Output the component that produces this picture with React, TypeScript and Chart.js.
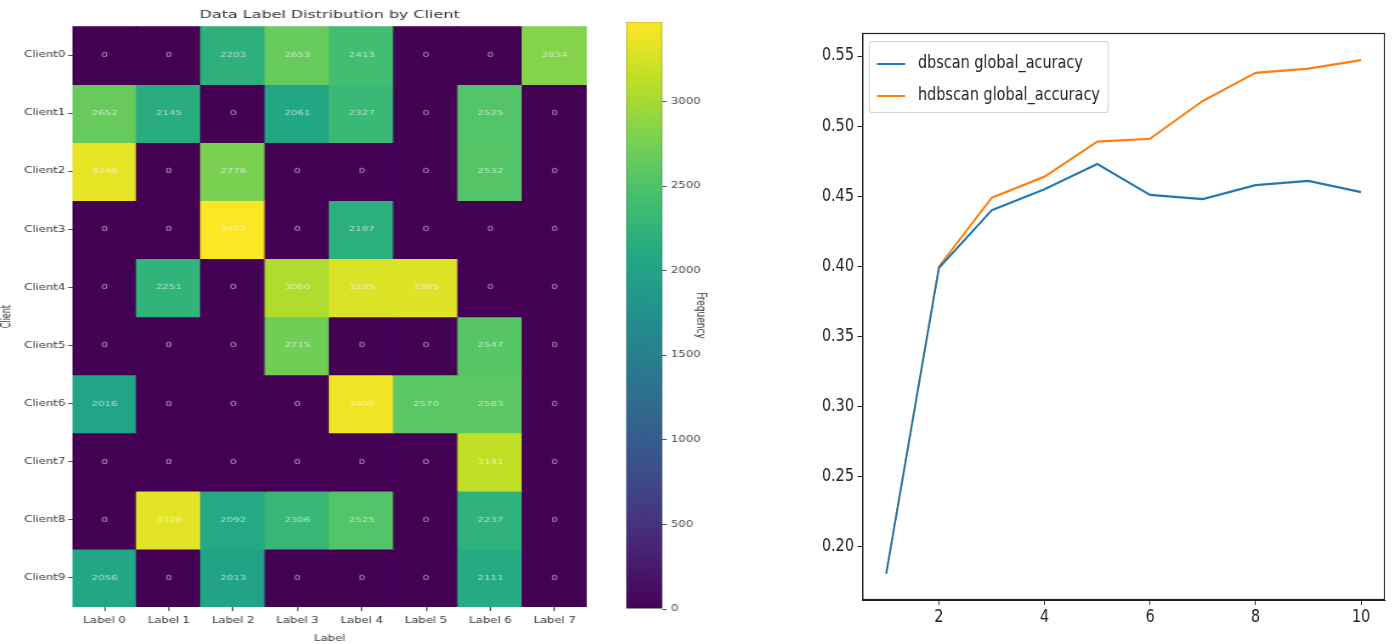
import React, { useEffect, useRef } from "react";
import { Chart, registerables } from "chart.js";

Chart.register(...registerables);

// ---------- Data ----------
const labelNames = ["Label 0", "Label 1", "Label 2", "Label 3", "Label 4", "Label 5", "Label 6", "Label 7"];
const clientNames = ["Client0", "Client1", "Client2", "Client3", "Client4", "Client5", "Client6", "Client7", "Client8", "Client9"];
const client0 = [0, 0, 2203, 2653, 2413, 0, 0, 2834];
const client1 = [2652, 2145, 0, 2061, 2327, 0, 2525, 0];
const client2 = [3346, 0, 2776, 0, 0, 0, 2532, 0];
const client3 = [0, 0, 3472, 0, 2187, 0, 0, 0];
const client4 = [0, 2251, 0, 3060, 3285, 3305, 0, 0];
const client5 = [0, 0, 0, 2715, 0, 0, 2547, 0];
const client6 = [2016, 0, 0, 0, 3400, 2570, 2583, 0];
const client7 = [0, 0, 0, 0, 0, 0, 3141, 0];
const client8 = [0, 3326, 2092, 2306, 2525, 0, 2237, 0];
const client9 = [2056, 0, 2013, 0, 0, 0, 2111, 0];
const heatRows = [client0, client1, client2, client3, client4, client5, client6, client7, client8, client9];
const colorbarTicks = [0, 500, 1000, 1500, 2000, 2500, 3000];

const rounds = [1, 2, 3, 4, 5, 6, 7, 8, 9, 10];
const dbscanAcc = [0.181, 0.399, 0.44, 0.455, 0.473, 0.451, 0.448, 0.458, 0.461, 0.453];
const hdbscanAcc = [0.181, 0.4, 0.449, 0.464, 0.489, 0.491, 0.518, 0.538, 0.541, 0.547];
const accTicksX = [2, 4, 6, 8, 10];
const accTicksY = [0.2, 0.25, 0.3, 0.35, 0.4, 0.45, 0.5, 0.55];

// ---------- Helpers ----------
const viridisStops = [
  "#440154", "#482475", "#414487", "#355f8d", "#2a788e", "#21918c",
  "#22a884", "#44bf70", "#7ad151", "#bddf26", "#fde725",
];
function hexToRgb(h: string) {
  return [parseInt(h.slice(1, 3), 16), parseInt(h.slice(3, 5), 16), parseInt(h.slice(5, 7), 16)];
}
function viridis(t: number) {
  const c = Math.max(0, Math.min(1, t)) * 10;
  const i = Math.min(9, Math.floor(c));
  const f = c - i;
  const a = hexToRgb(viridisStops[i]);
  const b = hexToRgb(viridisStops[i + 1]);
  const r = a.map((v, k) => Math.round(v + (b[k] - v) * f));
  return `rgb(${r[0]},${r[1]},${r[2]})`;
}
const vmax = Math.max(...heatRows.flat());
const smallFont = "'DejaVu Sans', sans-serif";

// the left figure is shown horizontally stretched, the right one squeezed, like the reference
const STRETCH = 1.449;
const HEAT_W = 421;
const BAR_W = 138;
const SQUEEZE = 0.85;
const LINE_W = 700;

export default function App() {
  const heatRef = useRef<HTMLCanvasElement>(null);
  const barRef = useRef<HTMLCanvasElement>(null);
  const lineRef = useRef<HTMLCanvasElement>(null);

  useEffect(() => {
    const charts: Chart[] = [];

    // Heatmap
    const cellLabels = {
      id: "cellLabels",
      afterDatasetsDraw(chart: any) {
        const ctx = chart.ctx;
        ctx.save();
        ctx.font = `7px ${smallFont}`;
        ctx.textAlign = "center";
        ctx.textBaseline = "middle";
        ctx.fillStyle = "rgba(255,255,255,0.62)";
        heatRows.forEach((row, i) => {
          const meta = chart.getDatasetMeta(i);
          meta.data.forEach((bar: any, j: number) => {
            const p = bar.getProps(["x", "y", "base"], true);
            ctx.fillText(String(row[j]), p.x, (p.y + p.base) / 2);
          });
        });
        ctx.restore();
      },
    };
    charts.push(
      new Chart(heatRef.current!, {
        type: "bar",
        data: {
          labels: labelNames,
          datasets: heatRows.map((row, i) => ({
            label: clientNames[i],
            data: row.map(() => [i - 0.5, i + 0.5]),
            backgroundColor: row.map((v) => viridis(v / vmax)),
            borderWidth: 0,
            inflateAmount: 0.6,
            grouped: false,
            barPercentage: 1,
            categoryPercentage: 1,
          })) as any,
        },
        options: {
          animation: false,
          responsive: false,
          devicePixelRatio: 1,
          layout: { padding: { left: 0, right: 16, top: 1, bottom: 0 } },
          plugins: {
            legend: { display: false },
            tooltip: { enabled: false },
            title: {
              display: true,
              text: "Data Label Distribution by Client",
              fullSize: false,
              color: "#333",
              font: { family: smallFont, size: 11, weight: "normal" },
              padding: { top: 8, bottom: 4 },
            },
          },
          scales: {
            x: {
              type: "category",
              offset: true,
              grid: { display: true, offset: false, drawOnChartArea: false, tickLength: 4, color: "#555" },
              border: { display: false },
              ticks: { color: "#333", font: { family: smallFont, size: 8 }, padding: 5, maxRotation: 0 },
              title: { display: true, text: "Label", color: "#333", font: { family: smallFont, size: 8 }, padding: { top: 3, bottom: 0 } },
              afterFit: (s: any) => { s.height = 37; },
            },
            y: {
              type: "linear",
              min: -0.5,
              max: 9.5,
              reverse: true,
              grid: { display: true, drawOnChartArea: false, tickLength: 3, color: "#555" },
              border: { display: false },
              afterBuildTicks: (s: any) => { s.ticks = clientNames.map((_, i) => ({ value: i })); },
              ticks: {
                color: "#333",
                font: { family: smallFont, size: 8 },
                padding: 2,
                callback: (v: any) => clientNames[Math.round(Number(v))] ?? "",
              },
              title: { display: true, text: "Client", color: "#333", font: { family: smallFont, size: 8 }, padding: { top: 0, bottom: 2 } },
              afterFit: (s: any) => { s.width = 50; },
            },
          },
        } as any,
        plugins: [cellLabels],
      })
    );

    // Colorbar
    charts.push(
      new Chart(barRef.current!, {
        type: "bar",
        data: {
          labels: ["Frequency"],
          datasets: [
            {
              label: "Frequency",
              data: [[0, vmax]] as any,
              backgroundColor: (c: any) => {
                const area = c.chart.chartArea;
                if (!area) return viridis(0.5);
                const g = c.chart.ctx.createLinearGradient(0, area.bottom, 0, area.top);
                viridisStops.forEach((s, k) => g.addColorStop(k / 10, s));
                return g;
              },
              borderColor: "#666",
              borderWidth: 0.6,
              borderSkipped: false,
              barPercentage: 1,
              categoryPercentage: 1,
            },
          ],
        },
        options: {
          animation: false,
          responsive: false,
          devicePixelRatio: 1,
          layout: { padding: { left: 18, right: 60, top: 22, bottom: 35 } },
          plugins: { legend: { display: false }, tooltip: { enabled: false } },
          scales: {
            x: { display: false },
            y: {
              position: "right",
              min: 0,
              max: vmax,
              grid: { display: true, drawOnChartArea: false, tickLength: 3, color: "#555" },
              border: { display: false },
              afterBuildTicks: (s: any) => { s.ticks = colorbarTicks.map((v) => ({ value: v })); },
              ticks: { color: "#444", font: { family: smallFont, size: 8 }, padding: 3, callback: (v: any) => String(v) },
              title: { display: true, text: "Frequency", color: "#333", font: { family: smallFont, size: 9 }, padding: 3 },
              afterFit: (s: any) => { s.width = 35; },
            },
          },
        } as any,
      })
    );

    // Line chart
    const frameAndLegend = {
      id: "frameAndLegend",
      afterDraw(chart: any) {
        const ctx = chart.ctx;
        const a = chart.chartArea;
        ctx.save();
        ctx.strokeStyle = "#222";
        ctx.lineWidth = 1.2;
        ctx.strokeRect(a.left + 0.5, a.top + 0.5, a.right - a.left - 1, a.bottom - a.top - 1);
        // legend
        const bx = a.left + 7.6, by = a.top + 8, bw = 281, bh = 71;
        ctx.fillStyle = "rgba(255,255,255,0.85)";
        ctx.strokeStyle = "rgba(0,0,0,0.18)";
        ctx.lineWidth = 1.2;
        ctx.beginPath();
        (ctx as any).roundRect(bx + 0.5, by + 0.5, bw, bh, 3);
        ctx.fill();
        ctx.stroke();
        ctx.font = `17px ${smallFont}`;
        ctx.textBaseline = "middle";
        chart.data.datasets.forEach((ds: any, k: number) => {
          const y = by + 23 + k * 32;
          ctx.strokeStyle = ds.borderColor;
          ctx.lineWidth = 2.2;
          ctx.beginPath();
          ctx.moveTo(bx + 9.5, y);
          ctx.lineTo(bx + 42.5, y);
          ctx.stroke();
          ctx.fillStyle = "#222";
          ctx.fillText(ds.label, bx + 57.6, y);
        });
        ctx.restore();
      },
    };
    charts.push(
      new Chart(lineRef.current!, {
        type: "line",
        data: {
          datasets: [
            {
              label: "dbscan global_acuracy",
              data: rounds.map((r, i) => ({ x: r, y: dbscanAcc[i] })),
              borderColor: "#1f77b4",
              borderWidth: 2.2,
              pointRadius: 0,
              tension: 0,
            },
            {
              label: "hdbscan global_accuracy",
              data: rounds.map((r, i) => ({ x: r, y: hdbscanAcc[i] })),
              borderColor: "#ff7f0e",
              borderWidth: 2.2,
              pointRadius: 0,
              tension: 0,
            },
          ],
        },
        options: {
          animation: false,
          responsive: false,
          devicePixelRatio: 1,
          layout: { padding: { left: 0, right: 12, top: 33, bottom: 0 } },
          plugins: { legend: { display: false }, tooltip: { enabled: false } },
          scales: {
            x: {
              type: "linear",
              min: 0.55,
              max: 10.45,
              grid: { display: true, drawOnChartArea: false, tickLength: 5, color: "#222" },
              border: { display: true, color: "#222" },
              afterBuildTicks: (s: any) => { s.ticks = accTicksX.map((v) => ({ value: v })); },
              ticks: { color: "#222", font: { family: smallFont, size: 17 }, padding: 2, maxRotation: 0 },
              afterFit: (s: any) => { s.height = 44; },
            },
            y: {
              type: "linear",
              min: 0.1622,
              max: 0.5664,
              grid: { display: true, drawOnChartArea: false, tickLength: 6, color: "#222" },
              border: { display: true, color: "#222" },
              afterBuildTicks: (s: any) => { s.ticks = accTicksY.map((v) => ({ value: v })); },
              ticks: { color: "#222", font: { family: smallFont, size: 17 }, padding: 4, callback: (v: any) => Number(v).toFixed(2) },
              afterFit: (s: any) => { s.width = 73.5; },
            },
          },
        } as any,
        plugins: [frameAndLegend],
      })
    );

    return () => charts.forEach((c) => c.destroy());
  }, []);

  return (
    <div style={{ position: "fixed", left: 0, top: 0, width: 1395, height: 644, background: "#fff", overflow: "hidden" }}>
      <canvas
        ref={heatRef}
        width={HEAT_W}
        height={644}
        style={{ position: "absolute", left: 0, top: 0, width: HEAT_W * STRETCH, height: 644 }}
      />
      <canvas
        ref={barRef}
        width={BAR_W}
        height={644}
        style={{ position: "absolute", left: 600, top: 0, width: BAR_W * STRETCH, height: 644 }}
      />
      <canvas
        ref={lineRef}
        width={LINE_W}
        height={644}
        style={{ position: "absolute", left: 800, top: 0, width: LINE_W * SQUEEZE, height: 644 }}
      />
    </div>
  );
}
